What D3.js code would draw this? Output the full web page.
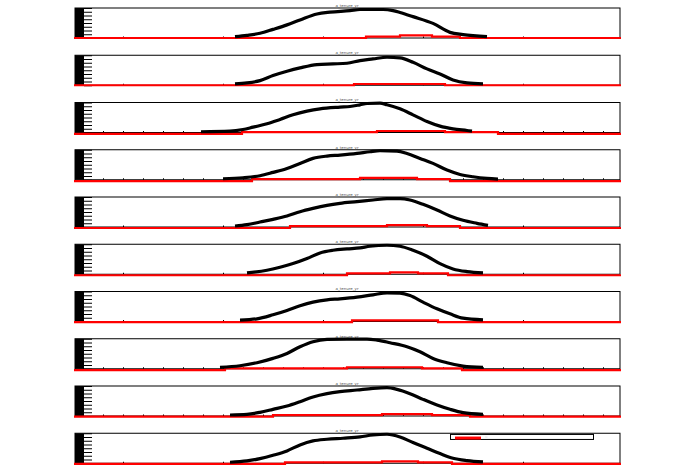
<!DOCTYPE html>
<html><head><meta charset="utf-8">
<script src="https://cdn.jsdelivr.net/npm/d3@7"></script>
<style>body{margin:0;background:#fff}svg{display:block}</style>
</head><body>
<script>
// ---- data (x in axis units, y in axis units 0..8) ----
const panelTitles = ["a_tenure_yr","a_tenure_yr","a_tenure_yr","a_tenure_yr","a_tenure_yr","a_tenure_yr","a_tenure_yr","a_tenure_yr","a_tenure_yr","a_tenure_yr"];
const xTicksMajor = [100,200,300,400,500];
const yTicks = [0,1,2,3,4,5,6,7,8];
const minorTickPanels = [2,3,7,8];

const blackX1 = [212,224,237,250,264,277,294,307,327,337,360,370,377,390,410,427,440,464];
const blackY1 = [0.35,0.7,1.25,2.3,3.5,4.8,6.4,6.9,7.3,7.6,7.6,7.3,6.8,5.7,3.9,1.5,0.9,0.35];
const blackX2 = [212,224,237,250,264,277,294,310,324,337,350,364,377,390,404,417,430,444,460];
const blackY2 = [0.36,0.62,1.24,2.58,3.73,4.62,5.51,5.69,5.87,6.58,7.02,7.47,7.29,6.13,4.36,3.02,1.42,0.62,0.36];
const blackX3 = [178,207,220,230,244,257,270,284,297,317,327,337,344,357,364,377,390,404,417,430,444,449];
const blackY3 = [0.2,0.36,0.8,1.42,2.31,3.47,4.71,5.69,6.31,6.76,6.93,7.38,7.73,7.82,7.38,6.31,4.71,2.93,1.69,0.98,0.53,0.36];
const blackX4 = [200,220,237,250,264,277,290,304,317,334,347,357,374,384,397,410,424,437,450,464,475];
const blackY4 = [0.27,0.53,1.07,1.96,3.02,4.36,5.69,6.31,6.58,7.02,7.47,7.73,7.64,7.02,5.69,4.36,2.58,1.42,0.8,0.36,0.18];
const blackX5 = [212,224,237,250,264,277,290,304,317,334,350,364,377,387,400,414,427,440,454,465];
const blackY5 = [0.27,0.62,1.33,2.04,2.93,4.09,4.98,5.78,6.31,6.76,7.2,7.56,7.56,7.2,6.04,4.53,2.93,1.78,0.98,0.44];
const blackX6 = [224,244,257,270,284,297,310,324,337,347,364,377,390,404,417,430,444,460];
const blackY6 = [0.36,1.07,1.87,2.84,4.18,5.69,6.4,6.76,7.02,7.47,7.73,7.47,6.4,4.8,2.84,1.42,0.71,0.36];
const blackX7 = [217,234,250,264,277,290,304,317,334,350,364,377,387,400,414,427,440,460];
const blackY7 = [0.36,0.71,1.78,2.93,4.18,5.16,5.78,6.04,6.49,7.11,7.64,7.56,6.93,5.16,3.38,2.04,0.89,0.44];
const blackX8 = [197,217,234,250,264,277,290,304,324,344,354,367,384,397,410,424,440,460];
const blackY8 = [0.36,0.8,1.6,2.76,4.09,5.87,7.2,7.82,7.91,7.91,7.64,6.93,5.87,4.53,2.76,1.6,0.71,0.36];
const blackX9 = [207,224,237,250,264,277,290,304,317,334,350,364,374,387,400,414,427,440,460];
const blackY9 = [0.27,0.44,0.98,1.78,2.67,3.82,5.07,5.96,6.49,6.93,7.38,7.56,7.11,5.96,4.44,2.93,1.78,0.89,0.44];
const blackX10 = [207,224,237,250,264,277,290,304,320,337,350,364,377,390,404,417,430,444,460];
const blackY10 = [0.27,0.62,1.24,2.13,3.29,4.89,5.96,6.4,6.67,7.02,7.56,7.73,7.02,5.51,4.0,2.58,1.33,0.71,0.36];

// red step series: breakpoints (x) and level starting at each breakpoint
const redX1 = [51,343,377,409,437,598];   const redY1 = [0,0.38,0.72,0.38,0,0];
const redX2 = [51,331,422,598];           const redY2 = [0,0.34,0,0];
const redX3 = [51,219,354,422,475,598];   const redY3 = [-0.36,0.1,0.4,0.1,-0.36,-0.36];
const redX4 = [51,229,337,394,427,598];   const redY4 = [-0.36,0.15,0.5,0.15,-0.36,-0.36];
const redX5 = [51,267,364,404,437,598];   const redY5 = [-0.27,0.22,0.52,0.22,-0.27,-0.27];
const redX6 = [51,324,367,395,425,598];   const redY6 = [-0.27,0.22,0.52,0.22,-0.27,-0.27];
const redX7 = [51,329,415,598];           const redY7 = [-0.18,0.3,-0.18,-0.18];
const redX8 = [51,202,324,399,439,598];   const redY8 = [-0.36,0.1,0.4,0.1,-0.36,-0.36];
const redX9 = [51,250,359,409,447,598];   const redY9 = [-0.18,0.22,0.52,0.22,-0.18,-0.18];
const redX10 = [51,262,359,395,429,598];  const redY10 = [-0.18,0.22,0.52,0.22,-0.18,-0.18];

const legendLabel = "--";

// ---- build ----
const blackXs=[blackX1,blackX2,blackX3,blackX4,blackX5,blackX6,blackX7,blackX8,blackX9,blackX10];
const blackYs=[blackY1,blackY2,blackY3,blackY4,blackY5,blackY6,blackY7,blackY8,blackY9,blackY10];
const redXs=[redX1,redX2,redX3,redX4,redX5,redX6,redX7,redX8,redX9,redX10];
const redYs=[redY1,redY2,redY3,redY4,redY5,redY6,redY7,redY8,redY9,redY10];

const W=696,H=472;
const svg=d3.select("body").append("svg").attr("width",W).attr("height",H);
const left=75,right=620,ph=30,firstTop=8,step=47.25;
const x=d3.scaleLinear().domain([52,597]).range([left,right]);

for(let i=0;i<10;i++){
  const top=firstTop+i*step, bot=top+ph;
  const y=d3.scaleLinear().domain([0,8]).range([bot,top]);
  const g=svg.append("g");
  // frame
  g.append("rect").attr("x",left).attr("y",top).attr("width",right-left).attr("height",ph)
    .attr("fill","none").attr("stroke","#000").attr("stroke-width",1);
  // x ticks (inward, tiny)
  const xt = minorTickPanels.includes(i) ? d3.range(60,597,20) : xTicksMajor;
  g.append("g").attr("transform",`translate(0,${bot})`)
    .call(d3.axisTop(x).tickValues(xt).tickSize(1.5).tickFormat(""))
    .call(a=>a.select(".domain").remove())
    .selectAll("line").attr("stroke","#000");
  // left block + y ticks
  g.append("rect").attr("x",left).attr("y",top).attr("width",9).attr("height",ph).attr("fill","#000");
  g.append("g").attr("transform",`translate(${left+9},0)`)
    .call(d3.axisRight(y).tickValues(yTicks).tickSize(8).tickFormat(""))
    .call(a=>a.select(".domain").remove())
    .selectAll("line").attr("stroke","#000").attr("stroke-width",1);
  // title
  g.append("text").attr("x",347).attr("y",top-1.2).attr("text-anchor","middle")
    .attr("font-family","DejaVu Sans").attr("font-size",3.6).attr("fill","#555")
    .attr("textLength",23).attr("lengthAdjust","spacingAndGlyphs").text(panelTitles[i]);
  // red step line
  const rd=redXs[i].map((v,k)=>[v,redYs[i][k]]);
  g.append("path").datum(rd)
    .attr("d",d3.line().x(d=>x(d[0])).y(d=>y(d[1])).curve(d3.curveStepAfter))
    .attr("fill","none").attr("stroke","#ff0000").attr("stroke-width",2.2);
  // black curve
  const bd=blackXs[i].map((v,k)=>[v,blackYs[i][k]]);
  g.append("path").datum(bd)
    .attr("d",d3.line().x(d=>x(d[0])).y(d=>y(d[1])).curve(d3.curveMonotoneX))
    .attr("fill","none").attr("stroke","#000").attr("stroke-width",3.2).attr("stroke-linejoin","round");
  if(i===9){
    const lg=g.append("g");
    lg.append("rect").attr("x",450.5).attr("y",top+1.2).attr("width",143).attr("height",5)
      .attr("fill","#fff").attr("stroke","#000").attr("stroke-width",1);
    lg.append("line").attr("x1",455).attr("x2",481).attr("y1",top+4.8).attr("y2",top+4.8)
      .attr("stroke","#ff0000").attr("stroke-width",3);
    lg.append("text").attr("x",485).attr("y",top+5).attr("font-family","DejaVu Sans")
      .attr("font-size",3.6).attr("fill","#777").text(legendLabel);
  }
}
</script>
</body></html>
